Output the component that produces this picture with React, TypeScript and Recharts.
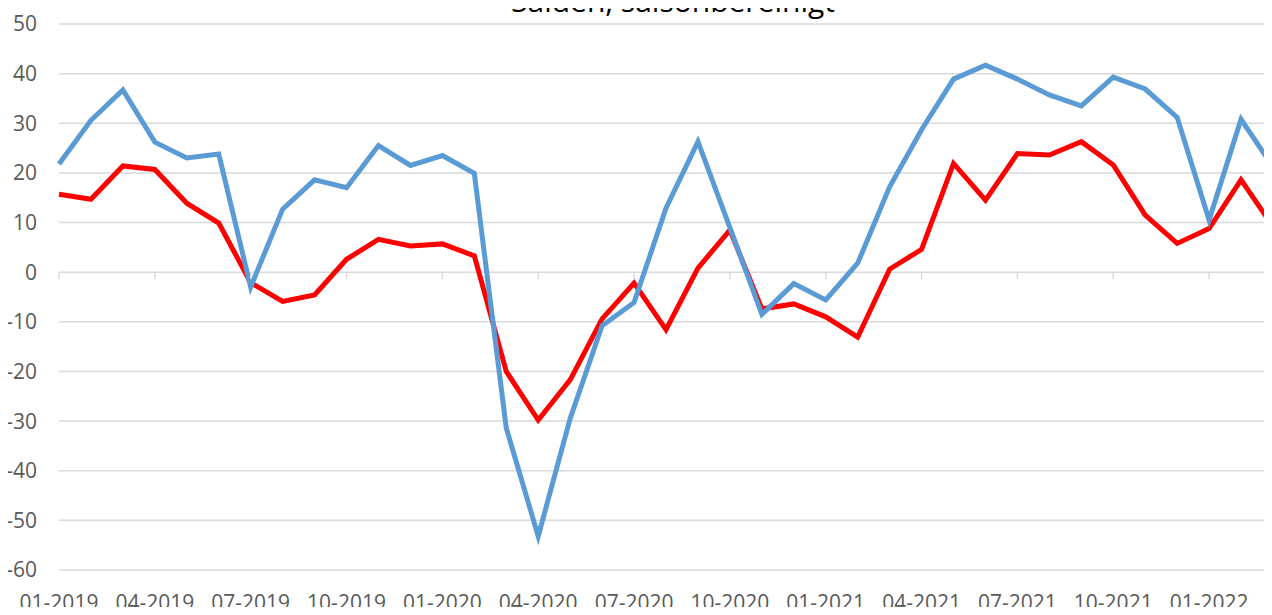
import { LineChart, Line, XAxis, YAxis, CartesianGrid } from "recharts";

const months = [
  "01-2019", "02-2019", "03-2019", "04-2019", "05-2019", "06-2019",
  "07-2019", "08-2019", "09-2019", "10-2019", "11-2019", "12-2019",
  "01-2020", "02-2020", "03-2020", "04-2020", "05-2020", "06-2020",
  "07-2020", "08-2020", "09-2020", "10-2020", "11-2020", "12-2020",
  "01-2021", "02-2021", "03-2021", "04-2021", "05-2021", "06-2021",
  "07-2021", "08-2021", "09-2021", "10-2021", "11-2021", "12-2021",
  "01-2022", "02-2022", "03-2022",
];

// rote Reihe
const redValues = [
  15.7, 14.7, 21.4, 20.7, 13.9, 9.9, -2.1, -5.9, -4.6, 2.6, 6.6, 5.3, 5.7,
  3.3, -20.0, -29.8, -21.7, -9.4, -2.2, -11.6, 0.8, 8.5, -7.4, -6.4, -9.0,
  -13.1, 0.6, 4.6, 21.9, 14.5, 23.9, 23.6, 26.3, 21.6, 11.5, 5.8, 8.8, 18.6,
  9.2,
];

// blaue Reihe
const blueValues = [
  21.8, 30.6, 36.7, 26.2, 23.0, 23.8, -3.0, 12.7, 18.6, 17.0, 25.5, 21.5,
  23.5, 19.9, -31.4, -53.2, -29.5, -10.8, -6.1, 12.9, 26.3, 9.0, -8.5, -2.3,
  -5.6, 1.8, 17.2, 28.7, 38.9, 41.7, 38.9, 35.7, 33.5, 39.3, 36.9, 31.2, 10.5,
  30.8, 21.2,
];

const yTicks = [-60, -50, -40, -30, -20, -10, 0, 10, 20, 30, 40, 50];

const title = "Salden, saisonbereinigt";

const data = months.map((m, i) => ({
  month: m,
  rot: redValues[i],
  blau: blueValues[i],
}));

const W = 1290;
const H = 615;
const TOP = 24;
const X_AXIS_H = 45;
const PLOT_H = H - TOP - X_AXIS_H;
const Y_MIN = -60;
const Y_MAX = 50;
const ZERO_Y = TOP + (PLOT_H * (Y_MAX - 0)) / (Y_MAX - Y_MIN);

const tickFont = {
  fontFamily: "'Open Sans', sans-serif",
  fontSize: 21,
  fill: "#595959",
};

function MonthTick(props: any) {
  const { x, y, payload } = props;
  return (
    <g>
      <line x1={x} x2={x} y1={ZERO_Y} y2={ZERO_Y + 7} stroke="#d9d9d9" strokeWidth={1.5} />
      <text x={x} y={y} dy="0.71em" textAnchor="middle" {...tickFont}>
        {payload.value}
      </text>
    </g>
  );
}

export default function App() {
  return (
    <div
      style={{
        position: "relative",
        margin: -8,
        width: 1272,
        height: H,
        overflow: "hidden",
        background: "#fff",
      }}
    >
      <div
        style={{
          position: "absolute",
          left: 0,
          top: 0,
          width: 2,
          height: H,
          background: "#efefef",
        }}
      />
      <div
        style={{
          position: "absolute",
          left: 673 - 300,
          width: 600,
          top: -13.6,
          textAlign: "center",
          fontFamily: "'Open Sans', sans-serif",
          fontSize: 30,
          lineHeight: "30px",
          color: "#000",
          zIndex: 1,
        }}
      >
        {title}
      </div>
      <LineChart
        width={W}
        height={H}
        data={data}
        margin={{ top: TOP, right: 17, bottom: 0, left: 0 }}
      >
        <CartesianGrid vertical={false} stroke="#d9d9d9" strokeWidth={1.5} />
        <XAxis
          dataKey="month"
          interval={2}
          height={X_AXIS_H}
          axisLine={false}
          tickLine={false}
          tickSize={0}
          tickMargin={25}
          tick={<MonthTick />}
        />
        <YAxis
          domain={[Y_MIN, Y_MAX]}
          ticks={yTicks}
          width={59}
          axisLine={false}
          tickLine={false}
          tickSize={0}
          tickMargin={22}
          tick={tickFont}
        />
        <Line
          dataKey="rot"
          type="linear"
          stroke="#ff0000"
          strokeWidth={5}
          dot={false}
          isAnimationActive={false}
        />
        <Line
          dataKey="blau"
          type="linear"
          stroke="#5b9bd5"
          strokeWidth={5}
          dot={false}
          isAnimationActive={false}
        />
      </LineChart>
    </div>
  );
}
